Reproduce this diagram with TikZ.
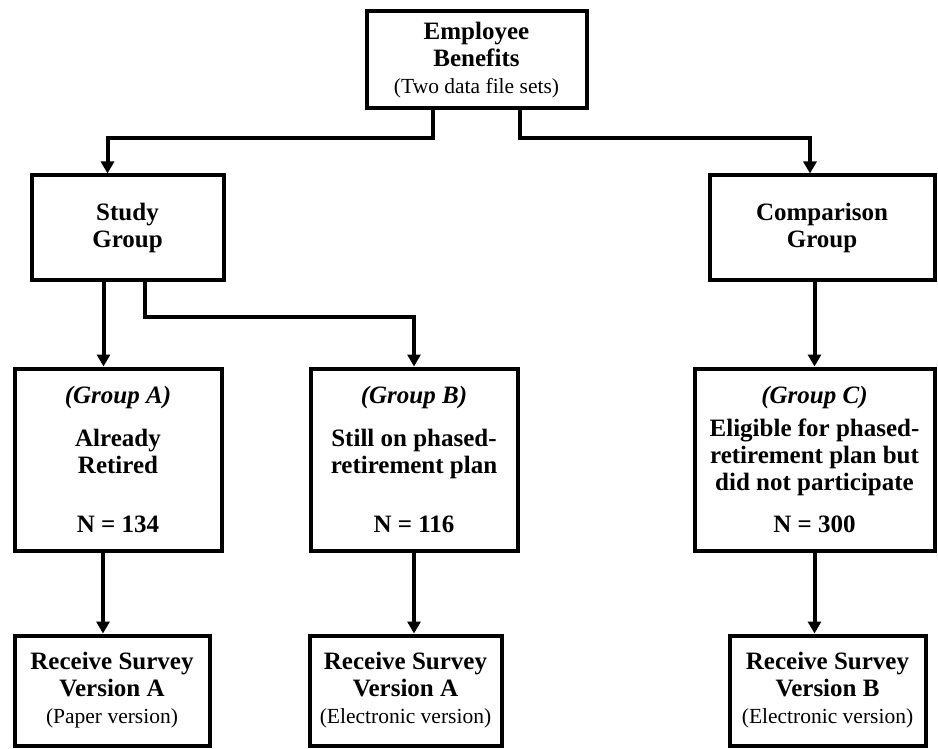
\documentclass[tikz,border=0pt]{standalone}
\usepackage{fontspec}
\setmainfont{Liberation Serif}
\usetikzlibrary{arrows.meta, positioning, calc}
\definecolor{LineColor}{HTML}{000000}
\definecolor{CardBg}{HTML}{FFFFFF}
\newcommand{\subnote}[1]{{\fontsize{21.5}{27}\selectfont\mdseries #1}}

\begin{document}
\begin{tikzpicture}[
        x=1pt, y=-1pt,
        box/.style={rectangle, draw=LineColor, fill=CardBg, line width=4pt, align=center, inner sep=2pt, font=\fontsize{25}{27}\selectfont\bfseries, text=LineColor},
        arr/.style={-{Triangle[width=13pt, length=12pt]}, line width=4pt, LineColor}
      ]
        \useasboundingbox (0,0) rectangle (938,749);

        % Nodes
        \node[box, minimum width=220pt, minimum height=97pt] (emp) at (476.5,60) {Employee\\Benefits\\\subnote{(Two data file sets)}};
        \node[box, minimum width=192pt, minimum height=104pt] (study) at (127.5,227.5) {Study\\Group};
        \node[box, minimum width=225pt, minimum height=104pt] (comp) at (822,227.5) {Comparison\\Group};
        \node[box, minimum width=207pt, minimum height=182pt] (grpA) at (118,459.5) {\textit{(Group A)}\\[16pt]Already\\Retired\\[32pt]N = 134};
        \node[box, minimum width=207pt, minimum height=182pt] (grpB) at (414,459.5) {\textit{(Group B)}\\[16pt]Still on phased-\\retirement plan\\[32pt]N = 116};
        \node[box, minimum width=240pt, minimum height=182pt] (grpC) at (814.5,459.5) {\textit{(Group C)}\\[6pt]Eligible for phased-\\retirement plan but\\did not participate\\[15pt]N = 300};
        \node[box, minimum width=195pt, minimum height=110pt] (recA) at (112,690.5) {Receive Survey\\Version A\\\subnote{(Paper version)}};
        \node[box, minimum width=192pt, minimum height=110pt] (recB) at (405.5,690.5) {Receive Survey\\Version A\\\subnote{(Electronic version)}};
        \node[box, minimum width=196pt, minimum height=110pt] (recC) at (827.5,690.5) {Receive Survey\\Version B\\\subnote{(Electronic version)}};

        % Connections
        \draw[arr] ([xshift=-44pt]emp.south) -- ++(0,-28pt) -| ([xshift=-20pt]study.north);
        \draw[arr] ([xshift=43pt]emp.south) -- ++(0,-28pt) -| ([xshift=-12pt]comp.north);
        \draw[arr] ([xshift=-24pt]study.south) -- ([xshift=-24pt]study.south |- grpA.north);
        \draw[arr] ([xshift=17pt]study.south) -- ++(0,-35pt) -| (grpB.north);
        \draw[arr] (grpC.north |- comp.south) -- (grpC.north);
        \draw[arr] ([xshift=-15pt]grpA.south) -- ([xshift=-15pt]grpA.south |- recA.north);
        \draw[arr] (grpB.south) -- (grpB.south |- recB.north);
        \draw[arr] (grpC.south) -- (grpC.south |- recC.north);
      \end{tikzpicture}
\end{document}
